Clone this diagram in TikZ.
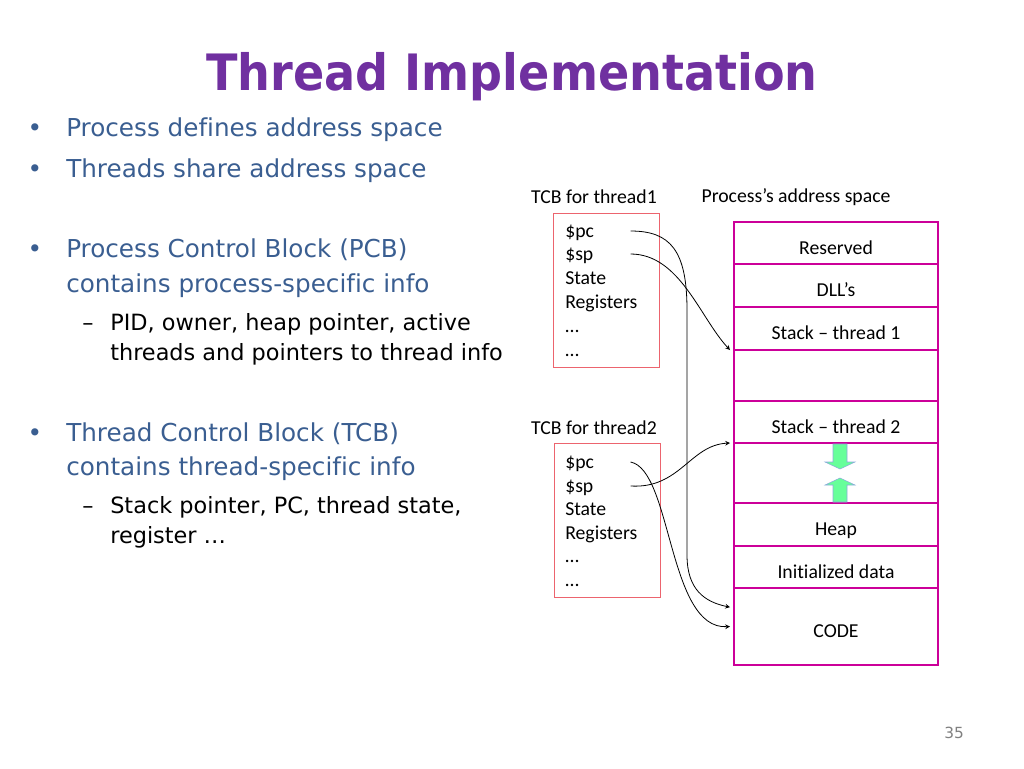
\documentclass[tikz,border=0pt]{standalone}
\usepackage{fontspec}
\setmainfont{DejaVu Sans}
\newfontfamily\slidefont{DejaVu Sans}[Ligatures=CommonOff]
\newfontfamily\headfont{DejaVu Sans}[FakeStretch=0.92]
\newfontfamily\boxfont{Carlito}[Ligatures=CommonOff]
\usetikzlibrary{arrows}
\usetikzlibrary{positioning}
\definecolor{titlepurple}{RGB}{112,48,160}
\definecolor{bulletblue}{RGB}{58,94,145}
\definecolor{segmagenta}{RGB}{204,0,153}
\definecolor{tcbred}{RGB}{236,100,110}
\definecolor{growgreen}{RGB}{102,255,153}
\definecolor{growedge}{RGB}{140,170,220}
\tikzset{
  title/.style={anchor=base, inner sep=0pt, text=titlepurple, font=\headfont\bfseries\fontsize{37.6}{42}\selectfont},
  mainline/.style={anchor=base west, inner sep=0pt, text=bulletblue, font=\slidefont\fontsize{18.5}{22}\selectfont},
  subline/.style={anchor=base west, inner sep=0pt, text=black, font=\slidefont\fontsize{16.8}{20}\selectfont},
  boxlabel/.style={inner sep=0pt, font=\boxfont\fontsize{14.8}{17}\selectfont},
  field/.style={anchor=west, inner sep=0pt, text width=48.75pt, text height=12.5pt, text depth=2.5pt, font=\boxfont\fontsize{14.8}{17}\selectfont},
  tcbbox/.style={draw=tcbred, line width=0.75pt, minimum width=79.5pt, minimum height=115.5pt},
  seg/.style={draw=segmagenta, line width=1.5pt, minimum width=153pt, minimum height={#1*0.75pt}, outer sep=0pt, inner sep=0pt, text height=17pt, text depth=0pt, font=\boxfont\fontsize{14.8}{17}\selectfont},
  link/.style={->, >=stealth, black, line width=0.6pt},
  growarrow/.style={fill=growgreen, draw=growedge, line width=0.4pt}
}
\begin{document}
\begin{tikzpicture}[x=0.75pt, y=-0.75pt]
  \useasboundingbox (0,0) rectangle (1024,768);

  \node [title] (title) at (512,90) {Thread Implementation};

  % bullets on the left
  \node [mainline, anchor=base] (dotA) at (35,136) {•};
  \node [mainline] (procdef) at (66,136) {Process defines address space};
  \node [mainline, anchor=base] (dotB) at (35,177) {•};
  \node [mainline] (share) at (66,177) {Threads share address space};
  \node [mainline, anchor=base] (dotC) at (35,257) {•};
  \node [mainline] (pcbA) at (66,257) {Process Control Block (PCB)};
  \node [mainline] (pcbB) at (66,292) {contains process-specific info};
  \node [subline, anchor=base] (dashA) at (88,330) {–};
  \node [subline] (pidA) at (110,330) {PID, owner, heap pointer, active};
  \node [subline] (pidB) at (110,360) {threads and pointers to thread info};
  \node [mainline, anchor=base] (dotD) at (35,441) {•};
  \node [mainline] (tcbtxtA) at (66,441) {Thread Control Block (TCB)};
  \node [mainline] (tcbtxtB) at (66,475) {contains thread-specific info};
  \node [subline, anchor=base] (dashB) at (88,513) {–};
  \node [subline] (stkA) at (110,513) {Stack pointer, PC, thread state,};
  \node [subline] (stkB) at (110,543) {register …};

  % thread control blocks
  \node [boxlabel] (tcbnameA) at (594,197) {TCB for thread1};
  \node [tcbbox] (tcbA) at (606,290) {};
  \node [field] (pcA) at (565,231) {\$pc};
  \node [field] (spA) at (565,254) {\$sp};
  \node [field] (stateA) at (565,278) {State};
  \node [field] (regA) at (565,302) {Registers};
  \node [field] (dotsA) at (565,326) {…};
  \node [field] (dotsB) at (565,350) {…};

  \node [boxlabel] (tcbnameB) at (594,428) {TCB for thread2};
  \node [tcbbox] (tcbB) at (607,520) {};
  \node [field] (pcB) at (565,462) {\$pc};
  \node [field] (spB) at (565,486) {\$sp};
  \node [field] (stateB) at (565,509) {State};
  \node [field] (regB) at (565,533) {Registers};
  \node [field] (dotsC) at (565,556) {…};
  \node [field] (dotsD) at (565,580) {…};

  % address space
  \node [boxlabel] (spacename) at (796,197) {Process’s address space};
  \node [seg=42] (reserved) at (836,243) {Reserved};
  \node [seg=43, below=0pt of reserved] (dlls) {DLL’s};
  \node [seg=43, below=0pt of dlls] (stackA) {Stack – thread 1};
  \node [seg=51, below=0pt of stackA] (gapA) {};
  \node [seg=42, below=0pt of gapA] (stackB) {Stack – thread 2};
  \node [seg=60, below=0pt of stackB] (gapB) {};
  \node [seg=43, below=0pt of gapB] (heap) {Heap};
  \node [seg=42, below=0pt of heap] (data) {Initialized data};
  \node [seg=77, below=0pt of data] (code) {CODE};

  % stack and heap grow towards each other
  \filldraw [growarrow] (833,444) -- (847,444) -- (847,462) -- (855,462) -- (840,469) -- (825,462) -- (833,462) -- cycle;
  \filldraw [growarrow] (833,502) -- (847,502) -- (847,485) -- (855,485) -- (840,478) -- (825,485) -- (833,485) -- cycle;

  % pointers
  \draw [link] (pcA.east) .. controls (670,231) and (687,250) .. (687,310) -- (687,555) .. controls (687,590) and (705,602) .. ([xshift=-3pt,yshift=14.5pt]code.west);
  \draw [link] (spA.east) .. controls (680,254) and (700,318) .. ([xshift=-3pt]gapA.north west);
  \draw [link] (pcB.east) .. controls (672,470) and (668,630) .. ([xshift=-3pt]code.west);
  \draw [link] (spB.east) .. controls (680,489) and (690,445) .. ([xshift=-3pt]gapB.north west);

  \node [inner sep=0pt, text=gray, font=\slidefont\fontsize{11.5}{13}\selectfont] (pnum) at (954,733) {35};
\end{tikzpicture}
\end{document}
